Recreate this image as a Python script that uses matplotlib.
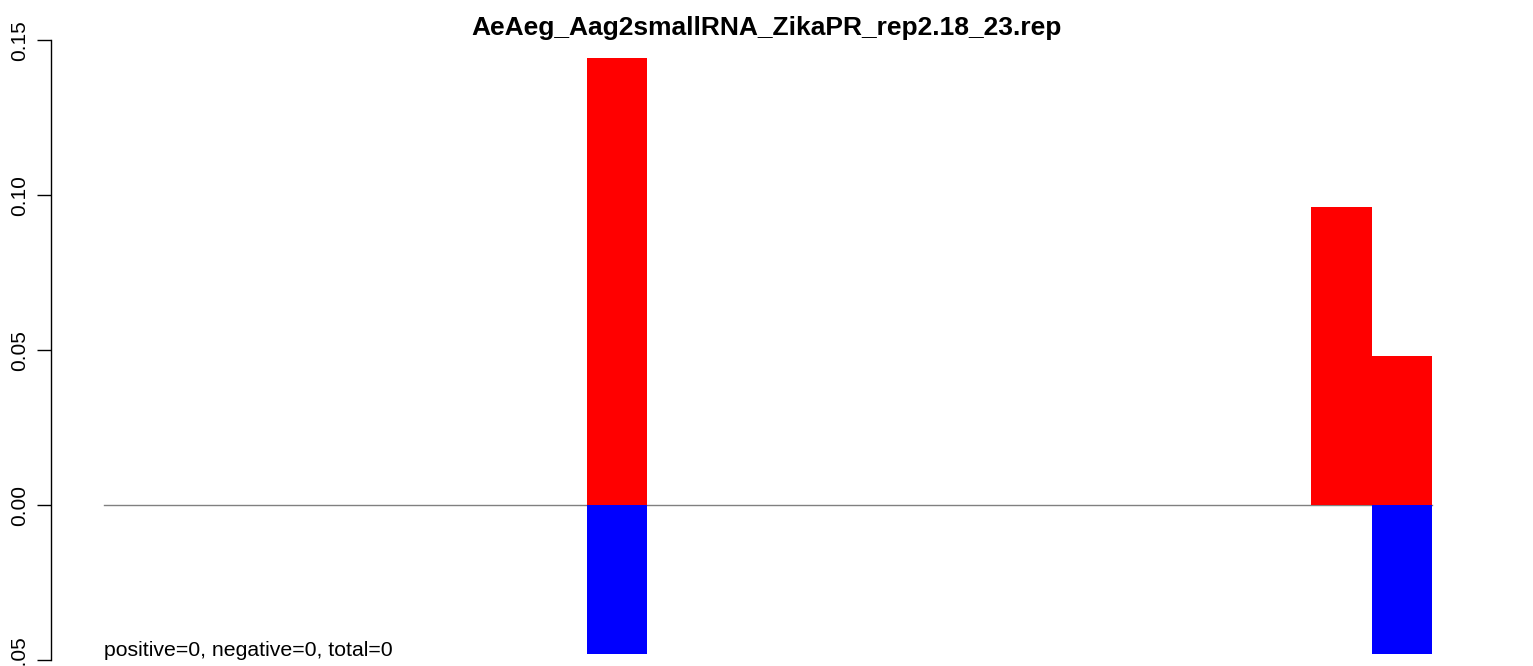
import matplotlib
matplotlib.use("Agg")
import matplotlib.pyplot as plt
import numpy as np

plt.rcParams['font.family'] = ['Liberation Sans', 'DejaVu Sans']

title = "AeAeg_Aag2smallRNA_ZikaPR_rep2.18_23.rep"
note = "positive=0, negative=0, total=0"

# one slot per position, forward (red) above zero, reverse (blue) below
positive = [0, 0, 0, 0, 0, 0, 0, 0, 0.1443, 0, 0, 0, 0, 0, 0, 0, 0, 0, 0, 0, 0.0962, 0.0481]
negative = [0, 0, 0, 0, 0, 0, 0, 0, -0.0481, 0, 0, 0, 0, 0, 0, 0, 0, 0, 0, 0, 0, -0.0481]
yticks = [-0.05, 0.00, 0.05, 0.10, 0.15]
ytick_labels = ["-0.05", "0.00", "0.05", "0.10", "0.15"]

W, H = 1533, 666
fig = plt.figure(figsize=(W / 100, H / 100), dpi=100)

n = len(positive)
x0, x1 = -0.04 * n, n * 1.04
px_left, px_right = 51, 1485
px_top, px_bottom = 40.3, 660
ax = fig.add_axes([px_left / W, 1 - px_bottom / H,
                   (px_right - px_left) / W, (px_bottom - px_top) / H])
ax.set_xlim(x0, x1)
ax.set_ylim(-0.05, 0.15)

idx = np.arange(n)
ax.plot([0, n], [0, 0], color="#808080", lw=1.0, zorder=1)
ax.bar(idx, positive, width=1.0, align="edge", color="#FF0000", linewidth=0, zorder=2)
ax.bar(idx, negative, width=1.0, align="edge", color="#0000FF", linewidth=0, zorder=2)

for s in ["top", "right", "bottom"]:
    ax.spines[s].set_visible(False)
ax.spines["left"].set_linewidth(1.0)
ax.set_xticks([])
ax.set_yticks(yticks)
ax.set_yticklabels(ytick_labels, rotation=90, va="center", fontsize=15)
ax.tick_params(axis="y", length=10, width=1.0, pad=6)

fig.text(0.5, 1 - 28 / H, title, ha="center", va="center",
         fontsize=19, fontweight="bold")
fig.text(104 / W, 1 - 650 / H, note, fontsize=15.3, ha="left", va="center")

fig.savefig("out.png", dpi=100)
